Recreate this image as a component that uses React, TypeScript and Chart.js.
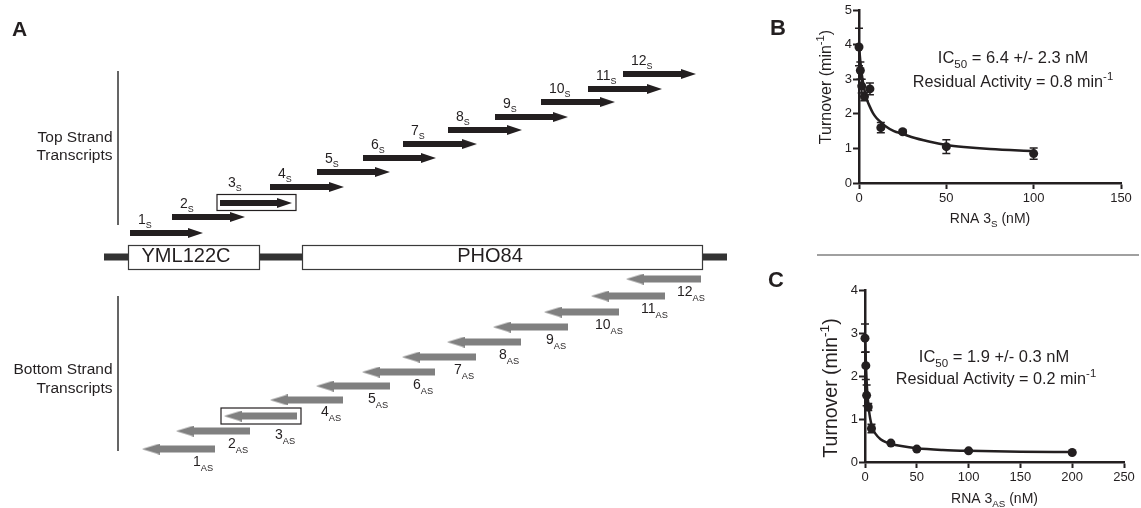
import React, { useEffect, useRef } from 'react';
import { Chart, registerables } from 'chart.js';

Chart.register(...registerables);

const FONT = '"Liberation Sans", Arial, Helvetica, sans-serif';
const INK = '#231f20';
const GREY = '#808080';
const LINE = '#333333';

// ---------------- Panel A data ----------------
const transcriptNumbers = ['1', '2', '3', '4', '5', '6', '7', '8', '9', '10', '11', '12'];
// top strand (sense) transcripts: start, end (position units), track level
const topStart = [130, 172, 220, 270, 317, 363, 403, 448, 495, 541, 588, 623];
const topEnd = [203, 245, 292, 344, 390, 436, 477, 522, 568, 615, 662, 696];
const topLevel = [1.6, 2.67, 3.6, 4.67, 5.67, 6.6, 7.53, 8.47, 9.33, 10.33, 11.2, 12.2];
// bottom strand (antisense) transcripts
const bottomStart = [142, 176, 224, 270, 316, 362, 402, 447, 493, 544, 591, 626];
const bottomEnd = [215, 250, 297, 343, 390, 435, 476, 521, 568, 619, 665, 701];
const bottomLevel = [-12.8, -11.6, -10.6, -9.53, -8.6, -7.67, -6.67, -5.67, -4.67, -3.67, -2.6, -1.47];
const highlighted = 2; // transcript 3 (index 2) on each strand
// genes
const geneNames = ['YML122C', 'PHO84'];
const geneStart = [128, 302];
const geneEnd = [259, 702];
const backbone = [104, 727];
const bracketTop = [12.4, 2.13];
const bracketBottom = [-2.6, -12.93];
const bracketPos = 118;

// ---------------- Panel B data ----------------
const bConc = [0, 0.78, 1.56, 3.125, 6.25, 12.5, 25, 50, 100];
const bTurnover = [3.93, 3.25, 2.8, 2.5, 2.72, 1.6, 1.48, 1.05, 0.85];
const bError = [0.54, 0.25, 0.2, 0.12, 0.17, 0.15, 0.05, 0.2, 0.16];
const bFitX = [0, 1, 2, 3, 4.5, 6.25, 8, 10, 12.5, 15, 20, 25, 30, 40, 50, 60, 75, 100];
const bFitY = [3.95, 3.4, 3.0, 2.72, 2.42, 2.2, 2.02, 1.88, 1.76, 1.65, 1.5, 1.42, 1.33, 1.2, 1.1, 1.04, 0.98, 0.92];

// ---------------- Panel C data ----------------
const cConc = [0, 0.78, 1.56, 3.125, 6.25, 25, 50, 100, 200];
const cTurnover = [2.88, 2.24, 1.55, 1.28, 0.78, 0.44, 0.3, 0.26, 0.22];
const cError = [0.33, 0.32, 0.24, 0.08, 0.1, 0.03, 0.02, 0.02, 0.02];
const cFitX = [0, 0.5, 1, 1.5, 2, 3, 4, 5, 6.25, 8, 10, 15, 20, 25, 35, 50, 75, 100, 150, 200];
const cFitY = [2.95, 2.55, 2.2, 1.92, 1.7, 1.4, 1.17, 1.01, 0.87, 0.75, 0.66, 0.53, 0.46, 0.42, 0.37, 0.32, 0.28, 0.26, 0.24, 0.23];

type Seg = { t: string; s?: 'sub' | 'sup' };

const yTitleSegs: Seg[] = [{ t: 'Turnover (min' }, { t: '-1', s: 'sup' }, { t: ')' }];

function fontStr(size: number, bold = false) {
  return `${bold ? 'bold ' : ''}${size}px ${FONT}`;
}

function drawRich(
  ctx: CanvasRenderingContext2D,
  segs: Seg[],
  x: number,
  y: number,
  size: number,
  align: 'left' | 'center' | 'right' = 'left',
  opts: { subScale?: number; subDy?: number; supDy?: number; color?: string } = {}
) {
  const subScale = opts.subScale ?? 0.7;
  const subDy = opts.subDy ?? size * 0.3;
  const supDy = opts.supDy ?? -size * 0.42;
  let w = 0;
  const widths = segs.map((sg) => {
    ctx.font = fontStr(sg.s ? size * subScale : size);
    const m = ctx.measureText(sg.t).width;
    w += m;
    return m;
  });
  let cx = align === 'center' ? x - w / 2 : align === 'right' ? x - w : x;
  ctx.textAlign = 'left';
  ctx.textBaseline = 'alphabetic';
  ctx.fillStyle = opts.color ?? INK;
  segs.forEach((sg, i) => {
    ctx.font = fontStr(sg.s ? size * subScale : size);
    const dy = sg.s === 'sub' ? subDy : sg.s === 'sup' ? supDy : 0;
    ctx.fillText(sg.t, cx, y + dy);
    cx += widths[i];
  });
}

function makeHead(len: number, h: number, color: string, dir: number) {
  const c = document.createElement('canvas');
  c.width = len;
  c.height = h;
  const g = c.getContext('2d')!;
  g.fillStyle = color;
  g.beginPath();
  if (dir > 0) {
    g.moveTo(0, 0);
    g.lineTo(len, h / 2);
    g.lineTo(0, h);
  } else {
    g.moveTo(len, 0);
    g.lineTo(0, h / 2);
    g.lineTo(len, h);
  }
  g.closePath();
  g.fill();
  return c;
}

const TOP_HEAD = 15;
const BOTTOM_HEAD = 18;

function PanelA() {
  const ref = useRef<HTMLCanvasElement>(null);
  useEffect(() => {
    const canvas = ref.current!;
    const headTop = makeHead(TOP_HEAD, 10, INK, 1);
    const headBottom = makeHead(BOTTOM_HEAD, 11, GREY, -1);
    const datasets: any[] = [];
    datasets.push({
      type: 'scatter',
      data: topEnd.map((e, i) => ({ x: e - TOP_HEAD / 2, y: topLevel[i] })),
      pointStyle: headTop,
      pointRadius: 5,
      clip: false,
    });
    datasets.push({
      type: 'scatter',
      data: bottomStart.map((s, i) => ({ x: s + BOTTOM_HEAD / 2, y: bottomLevel[i] })),
      pointStyle: headBottom,
      pointRadius: 5,
      clip: false,
    });
    topStart.forEach((s, i) =>
      datasets.push({
        type: 'line',
        data: [
          { x: s, y: topLevel[i] },
          { x: topEnd[i] - TOP_HEAD + 1, y: topLevel[i] },
        ],
        borderColor: INK,
        borderWidth: 6,
        borderCapStyle: 'butt',
        pointRadius: 0,
        clip: false,
      })
    );
    bottomStart.forEach((s, i) =>
      datasets.push({
        type: 'line',
        data: [
          { x: s + BOTTOM_HEAD - 1, y: bottomLevel[i] },
          { x: bottomEnd[i], y: bottomLevel[i] },
        ],
        borderColor: GREY,
        borderWidth: 7,
        borderCapStyle: 'butt',
        pointRadius: 0,
        clip: false,
      })
    );
    [bracketTop, bracketBottom].forEach((b) =>
      datasets.push({
        type: 'line',
        data: [
          { x: bracketPos, y: b[0] },
          { x: bracketPos, y: b[1] },
        ],
        borderColor: LINE,
        borderWidth: 1.5,
        pointRadius: 0,
        clip: false,
      })
    );
    datasets.push({
      type: 'line',
      data: [
        { x: backbone[0], y: 0 },
        { x: backbone[1], y: 0 },
      ],
      borderColor: LINE,
      borderWidth: 7,
      borderCapStyle: 'butt',
      pointRadius: 0,
      clip: false,
    });

    const annot = {
      id: 'panelAText',
      afterDatasetsDraw(chart: any) {
        const ctx: CanvasRenderingContext2D = chart.ctx;
        const xs = chart.scales.x;
        const ys = chart.scales.y;
        const y0 = ys.getPixelForValue(0);
        ctx.save();
        // gene boxes
        const geneTextX = [186, 490];
        geneNames.forEach((name, i) => {
          const x1 = xs.getPixelForValue(geneStart[i]);
          const x2 = xs.getPixelForValue(geneEnd[i]);
          ctx.fillStyle = '#ffffff';
          ctx.fillRect(x1, y0 - 12, x2 - x1, 24);
          ctx.strokeStyle = '#3a3a3a';
          ctx.lineWidth = 1.2;
          ctx.strokeRect(x1 + 0.5, y0 - 12 + 0.5, x2 - x1, 24);
          ctx.fillStyle = INK;
          ctx.font = fontStr(20);
          ctx.textAlign = 'center';
          ctx.textBaseline = 'alphabetic';
          ctx.fillText(name, geneTextX[i], y0 + 5);
        });
        // highlight boxes
        ctx.strokeStyle = INK;
        ctx.lineWidth = 1.2;
        {
          const x1 = xs.getPixelForValue(topStart[highlighted]) - 3;
          const x2 = xs.getPixelForValue(topEnd[highlighted]) + 4;
          const yc = ys.getPixelForValue(topLevel[highlighted]);
          ctx.strokeRect(x1, yc - 8.5, x2 - x1, 16);
          const bx1 = xs.getPixelForValue(bottomStart[highlighted]) - 3;
          const bx2 = xs.getPixelForValue(bottomEnd[highlighted]) + 4;
          const byc = ys.getPixelForValue(bottomLevel[highlighted]);
          ctx.strokeRect(bx1, byc - 8, bx2 - bx1, 16);
        }
        // transcript labels
        transcriptNumbers.forEach((n, i) => {
          const tx = xs.getPixelForValue(topStart[i]) + 8;
          const ty = ys.getPixelForValue(topLevel[i]) - (i === highlighted ? 16 : 9);
          drawRich(ctx, [{ t: n }, { t: 'S', s: 'sub' }], tx, ty, 14, 'left', { subScale: 0.64, subDy: 4 });
          const bx = xs.getPixelForValue(bottomEnd[i]) - 22 - (n.length > 1 ? 2 : 0);
          const by = ys.getPixelForValue(bottomLevel[i]) + (i === highlighted ? 23 : 16.5);
          drawRich(ctx, [{ t: n }, { t: 'AS', s: 'sub' }], bx, by, 14, 'left', { subScale: 0.66, subDy: 5 });
        });
        // captions
        ctx.fillStyle = INK;
        ctx.font = fontStr(15.5);
        ctx.textAlign = 'right';
        ctx.fillText('Top Strand', 112.5, 141.5);
        ctx.fillText('Transcripts', 112.5, 160);
        ctx.fillText('Bottom Strand', 112.5, 374);
        ctx.fillText('Transcripts', 112.5, 393);
        // panel letter
        ctx.textAlign = 'left';
        ctx.font = fontStr(21, true);
        ctx.fillText('A', 12, 36);
        ctx.restore();
      },
    };

    const chart = new Chart(canvas, {
      type: 'scatter',
      data: { datasets },
      options: {
        responsive: false,
        animation: false,
        devicePixelRatio: 1,
        events: [],
        layout: { padding: 0, autoPadding: false },
        plugins: { legend: { display: false }, tooltip: { enabled: false } },
        scales: {
          x: { type: 'linear', min: 0, max: 760, display: false },
          y: { type: 'linear', min: -16.733, max: 17.133, display: false },
        },
      } as any,
      plugins: [annot],
    });
    return () => chart.destroy();
  }, []);
  return (
    <canvas
      ref={ref}
      width={760}
      height={508}
      style={{ position: 'absolute', left: 0, top: 0, width: 760, height: 508 }}
    />
  );
}

type PlotCfg = {
  left: number;
  top: number;
  width: number;
  height: number;
  area: { left: number; top: number; right: number; bottom: number };
  xs: number[];
  ys: number[];
  errs: number[];
  fitX: number[];
  fitY: number[];
  xMax: number;
  yMax: number;
  letter: string;
  letterPos: [number, number];
  ic: Seg[];
  icPos: [number, number];
  resid: Seg[];
  residPos: [number, number];
  xTitle: Seg[];
  xTitlePos: [number, number];
  yTitleCenter: [number, number];
  yTitleSize: number;
  separator?: [number, number, number];
};

const panelB: PlotCfg = {
  left: 760,
  top: 0,
  width: 381,
  height: 260,
  area: { left: 99, top: 10, right: 361, bottom: 183 },
  xs: bConc,
  ys: bTurnover,
  errs: bError,
  fitX: bFitX,
  fitY: bFitY,
  xMax: 150,
  yMax: 5,
  letter: 'B',
  letterPos: [10, 35],
  ic: [{ t: 'IC' }, { t: '50', s: 'sub' }, { t: ' = 6.4 +/- 2.3 nM' }],
  icPos: [253, 63],
  resid: [{ t: 'Residual Activity = 0.8 min' }, { t: '-1', s: 'sup' }],
  residPos: [253, 87],
  xTitle: [{ t: 'RNA 3' }, { t: 'S', s: 'sub' }, { t: ' (nM)' }],
  xTitlePos: [230, 223],
  yTitleCenter: [65, 87],
  yTitleSize: 16,
  separator: [57, 379, 255],
};

const panelC: PlotCfg = {
  left: 760,
  top: 260,
  width: 381,
  height: 248,
  area: { left: 105, top: 30, right: 364, bottom: 202 },
  xs: cConc,
  ys: cTurnover,
  errs: cError,
  fitX: cFitX,
  fitY: cFitY,
  xMax: 250,
  yMax: 4,
  letter: 'C',
  letterPos: [8, 27],
  ic: [{ t: 'IC' }, { t: '50', s: 'sub' }, { t: ' = 1.9 +/- 0.3 nM' }],
  icPos: [234, 102],
  resid: [{ t: 'Residual Activity = 0.2 min' }, { t: '-1', s: 'sup' }],
  residPos: [236, 124],
  xTitle: [{ t: 'RNA 3' }, { t: 'AS', s: 'sub' }, { t: ' (nM)' }],
  xTitlePos: [234.5, 243],
  yTitleCenter: [70, 128],
  yTitleSize: 19.5,
};

const Y_AXIS_W = 40;
const X_AXIS_H = 30;

function Plot({ cfg }: { cfg: PlotCfg }) {
  const ref = useRef<HTMLCanvasElement>(null);
  useEffect(() => {
    const canvas = ref.current!;
    const textPlugin = {
      id: 'plotText',
      afterDatasetsDraw(chart: any) {
        const ctx: CanvasRenderingContext2D = chart.ctx;
        const xs = chart.scales.x;
        const ys = chart.scales.y;
        ctx.save();
        // error bars
        ctx.strokeStyle = INK;
        ctx.lineWidth = 1.5;
        cfg.xs.forEach((xv, i) => {
          const e = cfg.errs[i];
          const px = xs.getPixelForValue(xv);
          const top = ys.getPixelForValue(cfg.ys[i] + e);
          const bot = ys.getPixelForValue(cfg.ys[i] - e);
          ctx.beginPath();
          ctx.moveTo(px, top);
          ctx.lineTo(px, bot);
          ctx.moveTo(px - 4, top);
          ctx.lineTo(px + 4, top);
          ctx.moveTo(px - 4, bot);
          ctx.lineTo(px + 4, bot);
          ctx.stroke();
        });
        // texts
        drawRich(ctx, cfg.ic, cfg.icPos[0], cfg.icPos[1], 16.5, 'center');
        drawRich(ctx, cfg.resid, cfg.residPos[0], cfg.residPos[1], 16.2, 'center');
        drawRich(ctx, cfg.xTitle, cfg.xTitlePos[0], cfg.xTitlePos[1], 14, 'center');
        ctx.save();
        ctx.translate(cfg.yTitleCenter[0] + 0.35 * cfg.yTitleSize, cfg.yTitleCenter[1]);
        ctx.rotate(-Math.PI / 2);
        drawRich(ctx, yTitleSegs, 0, 0, cfg.yTitleSize, 'center');
        ctx.restore();
        ctx.fillStyle = INK;
        ctx.font = fontStr(22, true);
        ctx.textAlign = 'left';
        ctx.textBaseline = 'alphabetic';
        ctx.fillText(cfg.letter, cfg.letterPos[0], cfg.letterPos[1]);
        if (cfg.separator) {
          ctx.strokeStyle = GREY;
          ctx.lineWidth = 1.5;
          ctx.beginPath();
          ctx.moveTo(cfg.separator[0], cfg.separator[2]);
          ctx.lineTo(cfg.separator[1], cfg.separator[2]);
          ctx.stroke();
        }
        ctx.restore();
      },
    };
    const axisCommon = {
      type: 'linear',
      min: 0,
      grid: {
        display: true,
        drawOnChartArea: false,
        drawTicks: true,
        tickLength: 6,
        tickWidth: 2,
        tickColor: INK,
      },
      border: { display: true, color: INK, width: 2.5 },
    };
    const chart = new Chart(canvas, {
      type: 'scatter',
      data: {
        datasets: [
          {
            type: 'scatter',
            data: cfg.xs.map((x, i) => ({ x, y: cfg.ys[i] })),
            pointRadius: 4.5,
            backgroundColor: INK,
            borderWidth: 0,
            clip: false,
          },
          {
            type: 'line',
            data: cfg.fitX.map((x, i) => ({ x, y: cfg.fitY[i] })),
            borderColor: INK,
            borderWidth: 2.5,
            pointRadius: 0,
            cubicInterpolationMode: 'monotone',
            clip: false,
          },
        ] as any,
      },
      options: {
        responsive: false,
        animation: false,
        devicePixelRatio: 1,
        events: [],
        layout: {
          autoPadding: false,
          padding: {
            left: cfg.area.left - Y_AXIS_W,
            top: cfg.area.top,
            right: cfg.width - cfg.area.right,
            bottom: cfg.height - cfg.area.bottom - X_AXIS_H,
          },
        },
        plugins: { legend: { display: false }, tooltip: { enabled: false } },
        scales: {
          x: {
            ...axisCommon,
            max: cfg.xMax,
            ticks: {
              stepSize: 50,
              autoSkip: false,
              maxRotation: 0,
              padding: 2,
              color: INK,
              font: { family: FONT, size: 13 },
            },
            afterFit: (s: any) => {
              s.height = X_AXIS_H;
              s.paddingLeft = 0;
              s.paddingRight = 0;
            },
          },
          y: {
            ...axisCommon,
            max: cfg.yMax,
            ticks: {
              stepSize: 1,
              autoSkip: false,
              padding: 1,
              color: INK,
              font: { family: FONT, size: 13 },
            },
            afterFit: (s: any) => {
              s.width = Y_AXIS_W;
              s.paddingTop = 0;
              s.paddingBottom = 0;
            },
          },
        },
      } as any,
      plugins: [textPlugin],
    });
    return () => chart.destroy();
  }, [cfg]);
  return (
    <canvas
      ref={ref}
      width={cfg.width}
      height={cfg.height}
      style={{ position: 'absolute', left: cfg.left, top: cfg.top, width: cfg.width, height: cfg.height }}
    />
  );
}

export default function App() {
  return (
    <div
      style={{
        position: 'absolute',
        left: 0,
        top: 0,
        width: 1141,
        height: 508,
        background: '#ffffff',
        overflow: 'hidden',
      }}
    >
      <PanelA />
      <Plot cfg={panelB} />
      <Plot cfg={panelC} />
    </div>
  );
}
